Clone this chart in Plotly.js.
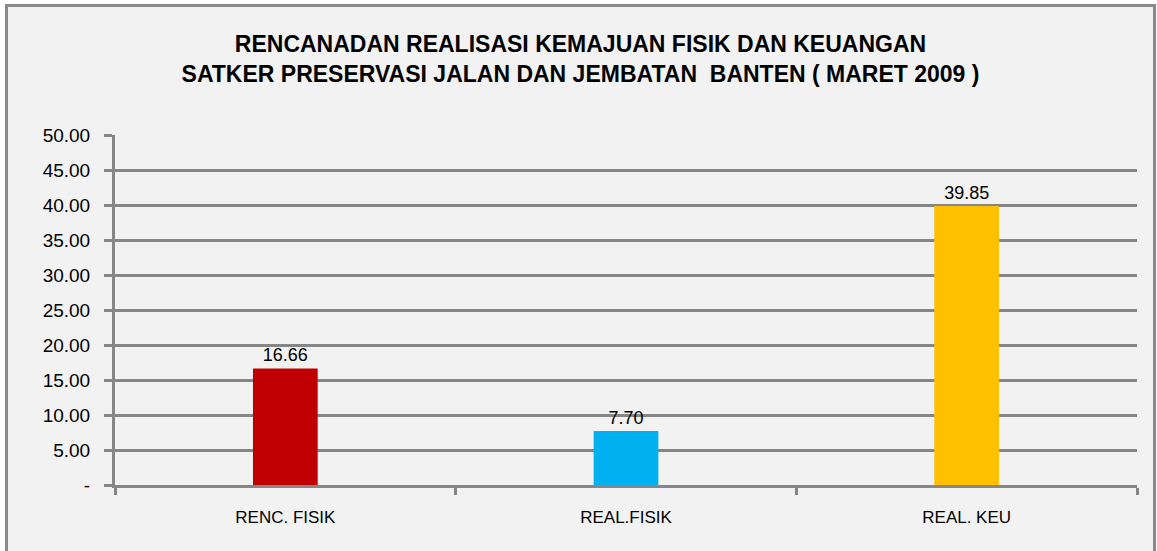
<!DOCTYPE html>
<html>
<head>
<meta charset="utf-8">
<script src="https://cdn.plot.ly/plotly-3.0.1.min.js"></script>
<style>
  html, body { margin: 0; padding: 0; background: #ffffff; overflow: hidden; }
  #frame {
    position: absolute; left: 5px; top: 4px;
    width: 1145px; height: 560px;
    border: 3px solid #8a8a8a;
    background: #f2f2f2;
  }
  #graph { width: 1145px; height: 560px; }
</style>
</head>
<body>
<div id="frame"><div id="graph"></div></div>
<script>
// Data
const categories = ['RENC. FISIK', 'REAL.FISIK', 'REAL. KEU'];
const values = [16.66, 7.70, 39.85];
const barColors = ['#c00000', '#00b0f0', '#ffc000'];

const yTickVals = [0, 5, 10, 15, 20, 25, 30, 35, 40, 45, 50];
const yTickText = ['-', '5.00', '10.00', '15.00', '20.00', '25.00', '30.00', '35.00', '40.00', '45.00', '50.00'];

const font = '"Liberation Sans", Arial, sans-serif';

const trace = {
    x: categories,
    y: values,
    type: 'bar',
    width: 0.19,
    marker: { color: barColors },
    text: values.map(v => v.toFixed(2)),
    textposition: 'outside',
    textfont: { family: font, size: 18, color: '#000000' },
    cliponaxis: false,
    hoverinfo: 'x+y'
};

const layout = {
    width: 1145,
    height: 560,
    paper_bgcolor: '#f2f2f2',
    plot_bgcolor: '#f2f2f2',
    margin: { l: 107, r: 16, t: 128, b: 82 },
    showlegend: false,
    title: {
        text: '<b>RENCANADAN REALISASI KEMAJUAN FISIK DAN KEUANGAN<br>SATKER PRESERVASI JALAN DAN JEMBATAN  BANTEN ( MARET 2009 )</b>',
        font: { family: font, size: 23, color: '#000000' },
        x: 0.5,
        xref: 'container',
        y: 0.92,
        yref: 'container',
        yanchor: 'top'
    },
    xaxis: {
        type: 'category',
        tickson: 'boundaries',
        ticks: 'outside',
        ticklen: 7,
        tickwidth: 3,
        tickcolor: '#868686',
        showline: true,
        linecolor: '#868686',
        linewidth: 3,
        showgrid: false,
        ticklabelstandoff: 15,
        tickfont: { family: font, size: 17, color: '#000000' },
        fixedrange: true
    },
    yaxis: {
        range: [0, 50],
        tickvals: yTickVals,
        ticktext: yTickText,
        ticks: 'outside',
        ticklen: 8,
        tickwidth: 3,
        tickcolor: '#868686',
        showline: true,
        linecolor: '#868686',
        linewidth: 3,
        showgrid: true,
        gridcolor: '#868686',
        gridwidth: 3,
        zeroline: false,
        ticklabelstandoff: 10,
        tickfont: { family: font, size: 19, color: '#000000' },
        fixedrange: true
    }
};

Plotly.newPlot('graph', [trace], layout, { displayModeBar: false, staticPlot: true });
</script>
</body>
</html>
